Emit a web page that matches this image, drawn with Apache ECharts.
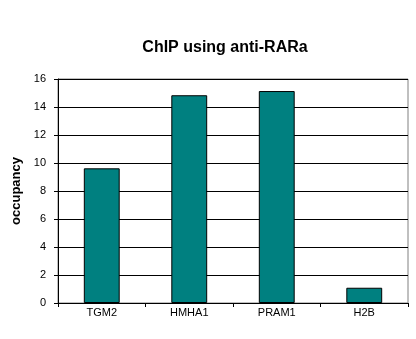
<!DOCTYPE html>
<html>
<head>
<meta charset="utf-8">
<script src="https://cdn.jsdelivr.net/npm/echarts@6/dist/echarts.min.js"></script>
<style>
  html, body { margin: 0; padding: 0; background: #fff; }
  #chart { width: 416px; height: 339px; }
</style>
</head>
<body>
<div id="chart"></div>
<script>
// ChIP occupancy per locus
const categories = ['TGM2', 'HMHA1', 'PRAM1', 'H2B'];
const occupancy = [9.62, 14.84, 15.14, 1.09];

const chart = echarts.init(document.getElementById('chart'), null, { renderer: 'canvas' });
const font = 'Arial, "Liberation Sans", sans-serif';

chart.setOption({
  animation: false,
  backgroundColor: '#ffffff',
  title: {
    text: 'ChIP using anti-RARa',
    left: 220,
    top: 35,
    textAlign: 'center',
    textStyle: { fontFamily: font, fontSize: 16, fontWeight: 'bold', color: '#000' }
  },
  grid: {
    left: 58, right: 8, top: 79, bottom: 36,
    show: true, borderColor: '#808080', borderWidth: 1, backgroundColor: '#fff'
  },
  xAxis: {
    type: 'category',
    data: categories,
    axisLine: { lineStyle: { color: '#000', width: 1 } },
    axisTick: { show: true, length: 4, inside: false, lineStyle: { color: '#000' } },
    axisLabel: { fontFamily: font, fontSize: 11, color: '#000', margin: 4 },
    splitLine: { show: false }
  },
  yAxis: {
    type: 'value',
    min: 0, max: 16, interval: 2,
    name: 'occupancy',
    nameLocation: 'middle',
    nameGap: 35,
    nameTextStyle: { fontFamily: font, fontSize: 13, fontWeight: 'bold', color: '#000' },
    axisLine: { show: true, lineStyle: { color: '#000', width: 1 } },
    axisTick: { show: true, length: 4, lineStyle: { color: '#000' } },
    axisLabel: { fontFamily: font, fontSize: 11, color: '#000', margin: 12 },
    splitLine: { show: true, lineStyle: { color: '#000', width: 1 } }
  },
  series: [{
    type: 'bar',
    data: occupancy,
    barWidth: '41%',
    itemStyle: { color: '#008080', borderColor: '#000', borderWidth: 1 }
  }]
});
</script>
</body>
</html>
